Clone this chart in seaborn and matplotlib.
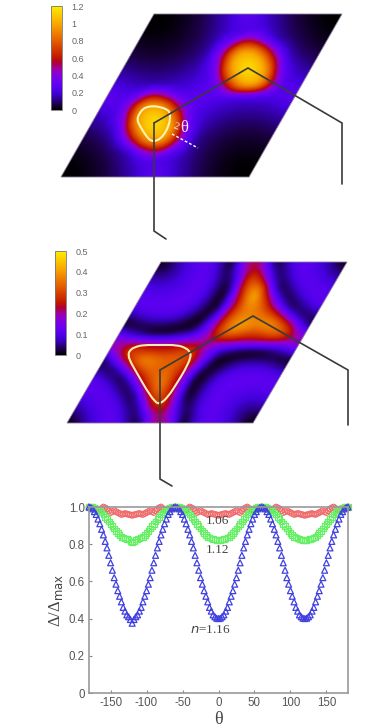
import numpy as np
import pandas as pd
import matplotlib
matplotlib.use('Agg')
import matplotlib.pyplot as plt
from matplotlib.colors import LinearSegmentedColormap, Normalize
from matplotlib.cm import ScalarMappable
from matplotlib.patches import PathPatch, Polygon
from matplotlib.path import Path
from matplotlib.transforms import Affine2D
import seaborn as sns

# values on the rhombus, one row per step upward
map_top = [
    [0, 0, .01, .03, .05, .08, .12, .17, .23, .30, .23, .17, .12, .08, .05, .03, .01, 0, 0],
    [0, .01, .02, .04, .07, .10, .15, .20, .26, .26, .20, .15, .10, .07, .04, .02, .01, 0, 0],
    [.01, .02, .04, .06, .09, .13, .18, .24, .24, .20, .18, .13, .09, .06, .04, .02, .01, .01, .01],
    [.03, .04, .06, .09, .12, .17, .33, .55, .55, .33, .24, .12, .09, .06, .04, .03, .02, .02, .03],
    [.05, .07, .09, .13, .27, .55, .92, 1.0, .92, .55, .27, .12, .09, .07, .05, .04, .04, .04, .05],
    [.08, .10, .13, .24, .55, 1.0, 1.1, 1.1, 1.0, .55, .24, .13, .10, .08, .07, .06, .06, .07, .08],
    [.12, .15, .22, .33, .92, 1.1, 1.18, 1.1, .92, .33, .22, .15, .12, .10, .09, .09, .09, .10, .12],
    [.17, .20, .24, .55, 1.0, 1.1, 1.1, 1.0, .55, .24, .20, .17, .15, .13, .12, .12, .13, .15, .17],
    [.23, .26, .27, .55, .92, 1.0, .92, .55, .27, .26, .23, .20, .18, .17, .17, .17, .18, .20, .23],
    [.30, .26, .24, .33, .55, .55, .33, .24, .26, .30, .26, .24, .23, .22, .22, .23, .24, .26, .30],
    [.23, .20, .18, .17, .17, .17, .18, .20, .23, .26, .27, .55, .92, 1.0, .92, .55, .27, .26, .23],
    [.17, .15, .13, .12, .12, .13, .15, .17, .20, .24, .55, 1.0, 1.1, 1.1, 1.0, .55, .24, .20, .17],
    [.12, .10, .09, .09, .09, .10, .12, .15, .22, .33, .92, 1.1, 1.18, 1.1, .92, .33, .22, .15, .12],
    [.08, .07, .06, .06, .07, .08, .10, .13, .24, .55, 1.0, 1.1, 1.1, 1.0, .55, .24, .13, .10, .08],
    [.05, .04, .04, .04, .05, .07, .09, .12, .27, .55, .92, 1.0, .92, .55, .27, .13, .09, .07, .05],
    [.03, .02, .02, .03, .04, .06, .09, .12, .24, .33, .55, .55, .33, .17, .12, .09, .06, .04, .03],
    [.01, .01, .01, .02, .04, .06, .09, .13, .18, .20, .24, .24, .18, .13, .09, .06, .04, .02, .01],
    [0, 0, .01, .02, .04, .07, .10, .15, .20, .26, .26, .20, .15, .10, .07, .04, .02, .01, 0],
    [0, 0, .01, .03, .05, .08, .12, .17, .23, .30, .23, .17, .12, .08, .05, .03, .01, 0, 0],
]
map_mid = [
    [0, .03, .07, .10, .12, .11, .05, 0, .18, .22, .18, 0, .05, .11, .12, .10, .07, .03, 0],
    [.03, .06, .09, .11, .12, .08, .01, .10, .22, .22, .10, .01, .08, .12, .11, .09, .06, .03, .03],
    [.07, .09, .11, .12, .10, .03, .04, .24, .30, .22, .04, .03, .10, .12, .11, .09, .07, .06, .07],
    [.10, .11, .12, .10, .04, 0, .19, .33, .30, .17, 0, .04, .10, .12, .11, .10, .09, .09, .10],
    [.12, .12, .10, .04, 0, .16, .30, .39, .27, .15, 0, .04, .10, .12, .12, .11, .11, .11, .12],
    [.11, .08, .03, 0, .16, .29, .36, .36, .26, .14, 0, .03, .08, .11, .12, .12, .12, .12, .11],
    [.05, .01, .04, .20, .31, .36, .33, .33, .28, .18, .04, .01, .05, .08, .10, .10, .10, .08, .05],
    [0, .10, .24, .34, .40, .36, .34, .34, .32, .22, .10, 0, .01, .03, .04, .04, .03, .01, 0],
    [.15, .22, .31, .30, .28, .27, .28, .30, .30, .20, .12, .06, .03, 0, 0, 0, .03, .06, .12],
    [.20, .20, .20, .19, .18, .18, .19, .20, .20, .20, .20, .20, .20, .20, .20, .20, .20, .20, .20],
    [.12, .06, .03, 0, 0, 0, .03, .06, .12, .22, .34, .36, .32, .30, .32, .36, .34, .22, .15],
    [0, .01, .03, .04, .04, .03, .01, 0, .10, .22, .34, .42, .40, .38, .42, .36, .25, .10, 0],
    [.05, .08, .10, .10, .10, .08, .05, .01, .04, .19, .32, .37, .36, .36, .30, .18, .04, .01, .05],
    [.11, .12, .12, .12, .12, .11, .08, .03, 0, .15, .28, .38, .38, .26, .14, 0, .03, .08, .11],
    [.12, .11, .11, .11, .12, .12, .10, .04, 0, .15, .30, .47, .30, .14, 0, .04, .10, .12, .12],
    [.10, .09, .09, .10, .11, .12, .10, .04, 0, .18, .36, .40, .17, 0, .04, .10, .12, .11, .10],
    [.07, .06, .07, .09, .11, .12, .10, .03, .04, .22, .34, .22, .04, .03, .10, .12, .11, .09, .07],
    [.03, .03, .06, .09, .11, .12, .08, .01, .10, .24, .24, .10, .01, .08, .12, .11, .09, .06, .03],
    [0, .03, .07, .10, .12, .11, .05, 0, .18, .24, .18, 0, .05, .11, .12, .10, .07, .03, 0],
]

# gap against angle, every 2.5 degrees from -180 to 180
theta = [-180 + 2.5 * k for k in range(145)]
gap_116 = [1, .997, .99, .975, .96, .935, .91, .88, .85, .815, .78, .74, .70, .66, .62, .585, .55, .52, .49, .46, .44, .42, .41, .395, .375,
           .395, .41, .42, .44, .46, .49, .52, .55, .585, .62, .66, .70, .74, .78, .815, .85, .88, .91, .935, .96, .975, .99, .997, 1,
           .997, .99, .975, .96, .935, .91, .88, .85, .815, .78, .74, .70, .66, .62, .585, .55, .52, .49, .46, .44, .42, .41, .402, .40,
           .402, .41, .42, .44, .46, .49, .52, .55, .585, .62, .66, .70, .74, .78, .815, .85, .88, .91, .935, .96, .975, .99, .997, 1,
           .997, .99, .975, .96, .935, .91, .88, .85, .815, .78, .74, .70, .66, .62, .585, .55, .52, .49, .46, .44, .42, .41, .402, .40,
           .402, .41, .42, .44, .46, .49, .52, .55, .585, .62, .66, .70, .74, .78, .815, .85, .88, .91, .935, .96, .975, .99, .997, 1]
gap_112 = [1, 1, 1, .995, .99, .985, .98, .97, .96, .947, .935, .922, .91, .897, .885, .872, .86, .85, .84, .835, .83, .828, .825, .815, .81,
           .815, .825, .828, .83, .835, .84, .85, .86, .872, .885, .897, .91, .922, .935, .947, .96, .97, .98, .985, .99, .995, 1, 1, 1,
           1, 1, .995, .99, .985, .98, .97, .96, .947, .935, .922, .91, .897, .885, .872, .86, .85, .84, .835, .83, .828, .825, .822, .82,
           .822, .825, .828, .83, .835, .84, .85, .86, .872, .885, .897, .91, .922, .935, .947, .96, .97, .98, .985, .99, .995, 1, 1, 1,
           1, 1, .995, .99, .985, .98, .97, .96, .947, .935, .922, .91, .897, .885, .872, .86, .85, .84, .835, .83, .828, .825, .822, .82,
           .822, .825, .828, .83, .835, .84, .85, .86, .872, .885, .897, .91, .922, .935, .947, .96, .97, .98, .985, .99, .995, 1, 1, 1]
gap_106 = [1, .998, .995, .992, .99, .988, .985, .992, 1, .995, .99, .98, .97, .975, .98, .975, .97, .965, .96, .962, .965, .963, .96, .958, .955,
           .958, .96, .963, .965, .962, .96, .965, .97, .975, .98, .975, .97, .98, .99, .995, 1, .992, .985, .988, .99, .992, .995, .998, 1,
           .998, .995, .992, .99, .988, .985, .992, 1, .995, .99, .98, .97, .975, .98, .975, .97, .965, .96, .962, .965, .963, .96, .958, .955,
           .958, .96, .963, .965, .962, .96, .965, .97, .975, .98, .975, .97, .98, .99, .995, 1, .992, .985, .988, .99, .992, .995, .998, 1,
           .998, .995, .992, .99, .988, .985, .992, 1, .995, .99, .98, .97, .975, .98, .975, .97, .965, .96, .962, .965, .963, .96, .958, .955,
           .958, .96, .963, .965, .962, .96, .965, .97, .975, .98, .975, .97, .98, .99, .995, 1, .992, .985, .988, .99, .992, .995, .998, 1]

top_ticks = [0, .2, .4, .6, .8, 1, 1.2]
top_labels = ['0', '0.2', '0.4', '0.6', '0.8', '1', '1.2']
mid_ticks = [0, .1, .2, .3, .4, .5]
mid_labels = ['0', '0.1', '0.2', '0.3', '0.4', '0.5']
x_ticks = [-150, -100, -50, 0, 50, 100, 150]
y_ticks = [0, .2, .4, .6, .8, 1]
y_labels = ['0', '0.2', '0.4', '0.6', '0.8', '1.0']

# fermi surface outlines and honeycomb, in picture pixels
contour_top_x = [137, 139, 143, 147, 153, 160, 166, 170, 170, 168, 165, 161, 156, 151, 147, 143, 140]
contour_top_y = [120, 114, 109, 107, 106, 107, 109, 112, 120, 127, 133, 138, 141, 141, 137, 131, 126]
contour_mid_x = [128, 130, 135, 143, 160, 177, 186, 190, 191, 185, 177, 168, 160, 155, 146, 137, 131]
contour_mid_y = [355, 350, 347, 345, 345, 345, 348, 352, 357, 370, 383, 397, 404, 402, 389, 373, 363]
hex_top = [([154, 248, 342, 342], [123, 68, 123, 184]), ([154, 154, 166], [123, 231, 239])]
hex_mid = [([160, 253, 348, 348], [370, 316, 370, 425]), ([160, 160, 172], [370, 479, 486])]

sns.set_style('white')
plt.rcParams['font.family'] = ['Liberation Sans', 'DejaVu Sans']
plt.rcParams['axes.unicode_minus'] = False

cmap = LinearSegmentedColormap.from_list('gap', [
    (0, '#000000'), (.05, '#1a0040'), (.1, '#2c0090'), (.17, '#4600e0'), (.25, '#6400f5'), (.33, '#8000e0'),
    (.40, '#a000a0'), (.46, '#b00030'), (.5, '#c01500'), (.67, '#e56000'), (.83, '#f8a800'), (1, '#ffec00')])

fig = plt.figure(figsize=(3.81, 7.28), dpi=100)
ax = fig.add_axes([0, 0, 1, 1])
W, H = 381, 728
square = [(0, 0), (1, 0), (1, 1), (0, 1)]


def draw_map(grid, x0, y0, w, s, h, vmax):
    tr = Affine2D.from_values(w, 0, s, -h, x0, y0) + ax.transData
    half = .5 / (len(grid) - 1)
    im = ax.imshow(np.array(grid), origin='lower', extent=(-half, 1 + half, -half, 1 + half),
                   cmap=cmap, vmin=0, vmax=vmax, interpolation='bicubic', aspect='auto')
    im.set_transform(tr)
    im.set_clip_path(Polygon(square, transform=tr))
    ax.add_patch(Polygon(square, transform=tr, fill=False, ec='#8a7a9a', lw=.6))


def draw_cbar(left, top, bottom, vmax, ticks, labels):
    cax = fig.add_axes([left / W, 1 - bottom / H, 11 / W, (bottom - top) / H])
    cb = fig.colorbar(ScalarMappable(Normalize(0, vmax), cmap), cax=cax, ticks=ticks)
    cb.set_ticklabels(labels)
    cb.ax.tick_params(length=0, pad=7, labelsize=6.5, labelcolor='#666666')
    cb.outline.set_edgecolor('#777777')
    cb.outline.set_linewidth(.6)


def draw_loop(xs, ys, color):
    # rounded closed outline through the midpoints of the listed points
    pts = np.column_stack([xs, ys])
    mids = (pts + np.roll(pts, -1, axis=0)) / 2
    verts = [mids[-1]]
    codes = [Path.MOVETO]
    for p, m in zip(pts, mids):
        verts += [p, m]
        codes += [Path.CURVE3, Path.CURVE3]
    ax.add_patch(PathPatch(Path(verts, codes), fill=False, ec=color, lw=1.5))


draw_map(map_top, 61, 177, 188, 93, 163, 1.2)
draw_map(map_mid, 67, 423, 186, 94, 161, .5)
ax.set_xlim(0, W)
ax.set_ylim(H, 0)
ax.axis('off')

draw_loop(contour_top_x, contour_top_y, '#fff2b0')
draw_loop(contour_mid_x, contour_mid_y, '#ffe9b0')
for hx, hy in hex_top + hex_mid:
    ax.plot(hx, hy, color='#3a3a3a', lw=1.2, solid_joinstyle='miter')

# angle mark on the upper map
ax.plot([172, 198], [134, 148], color='white', lw=1, ls=(0, (2, 1.5)))
ax.text(184, 128, 'θ', color='#f4e4ff', fontsize=12, family='Liberation Serif', ha='center', va='center')
ax.text(176, 127, '2', color='#f4e4ff', fontsize=8, family='Liberation Serif', ha='center', va='center', rotation=-20)

draw_cbar(51, 6, 110, 1.2, top_ticks, top_labels)
draw_cbar(55, 251, 355, .5, mid_ticks, mid_labels)

# lower panel
bx = fig.add_axes([89 / W, 1 - 693 / H, 259 / W, 186 / H])
df = pd.DataFrame({'theta': theta, 'n106': gap_106, 'n112': gap_112, 'n116': gap_116})
sns.scatterplot(data=df, x='theta', y='n106', marker='o', s=16, facecolor='none', edgecolor='#f06a6a', linewidth=.8, ax=bx, clip_on=False)
sns.scatterplot(data=df, x='theta', y='n112', marker='s', s=16, facecolor='none', edgecolor='#66f066', linewidth=.9, ax=bx, clip_on=False)
sns.scatterplot(data=df, x='theta', y='n116', marker='^', s=18, facecolor='none', edgecolor='#4040e0', linewidth=.9, ax=bx, clip_on=False)
bx.set_xlim(-180, 180)
bx.set_ylim(0, 1)
bx.set_xticks(x_ticks)
bx.set_yticks(y_ticks, y_labels)
bx.tick_params(direction='in', length=2.5, width=.8, color='#888888', labelsize=8.3, labelcolor='#555555', pad=3, left=True, bottom=True)
for sp in bx.spines.values():
    sp.set_color('#999999')
    sp.set_linewidth(1.2)
bx.set_xlabel('θ', family='Liberation Serif', fontsize=13, color='#444444', labelpad=1)
bx.set_ylabel('Δ/Δ$_{\\mathrm{max}}$', family='Liberation Serif', fontsize=12, color='#444444', labelpad=3)
bx.text(-1, .925, '1.06', family='Liberation Serif', fontsize=9.5, color='#444444', ha='center', va='center')
bx.text(-1, .77, '1.12', family='Liberation Serif', fontsize=9.5, color='#444444', ha='center', va='center')
bx.text(-12, .34, '$\\mathit{n}$=1.16', family='Liberation Serif', fontsize=9.5, color='#444444', ha='center', va='center')

fig.savefig('out.png', dpi=100)
